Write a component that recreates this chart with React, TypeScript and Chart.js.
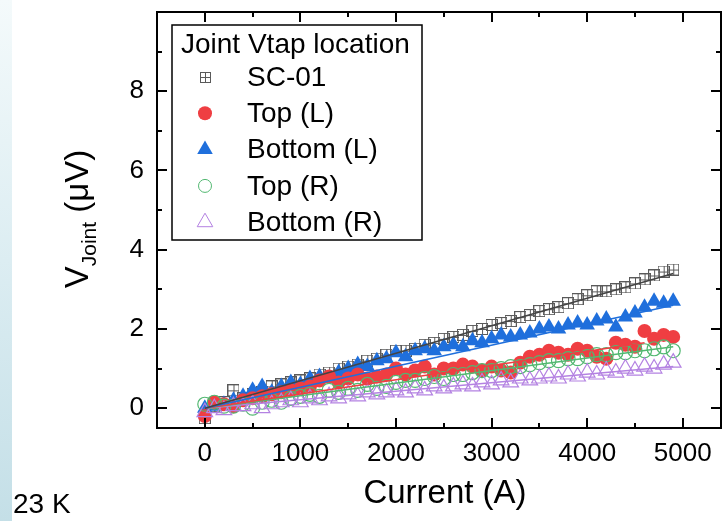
import React, { useEffect, useRef } from "react";
import { Chart, registerables } from "chart.js";

Chart.register(...registerables);

const FONT = '"Liberation Sans", Arial, sans-serif';

// Current (A)
const CURRENT_A = [
  0, 100, 200, 300, 400, 500, 600, 700, 800, 900,
  1000, 1100, 1200, 1300, 1400, 1500, 1600, 1700, 1800, 1900,
  2000, 2100, 2200, 2300, 2400, 2500, 2600, 2700, 2800, 2900,
  3000, 3100, 3200, 3300, 3400, 3500, 3600, 3700, 3800, 3900,
  4000, 4100, 4200, 4300, 4400, 4500, 4600, 4700, 4800, 4900,
];

// V_Joint (µV)
const SC01 = [
  -0.25, 0.05, 0.15, 0.45, 0.25, 0.35, 0.4, 0.55, 0.6, 0.65,
  0.7, 0.75, 0.85, 0.9, 1.0, 1.05, 1.1, 1.2, 1.25, 1.35,
  1.45, 1.45, 1.5, 1.6, 1.65, 1.75, 1.8, 1.85, 1.95, 2.0,
  2.1, 2.15, 2.2, 2.3, 2.35, 2.45, 2.5, 2.55, 2.65, 2.75,
  2.85, 2.95, 2.95, 3.0, 3.05, 3.15, 3.25, 3.35, 3.45, 3.5,
];
const TOP_L = [
  -0.2, 0.15, 0.1, 0.05, 0.2, 0.25, 0.3, 0.35, 0.4, 0.45,
  0.5, 0.55, 0.7, 0.8, 0.65, 0.75, 0.85, 0.75, 0.8, 0.85,
  1.0, 0.85, 0.95, 1.05, 0.85, 1.0, 1.0, 1.1, 1.05, 0.95,
  1.05, 0.95, 0.9, 1.15, 1.3, 1.35, 1.45, 1.4, 1.35, 1.5,
  1.45, 1.3, 1.25, 1.65, 1.6, 1.55, 1.95, 1.75, 1.85, 1.8,
];
const BOTTOM_L = [
  0.0, 0.05, 0.1, 0.2, 0.3, 0.45, 0.55, 0.4, 0.55, 0.65,
  0.6, 0.75, 0.8, 0.75, 0.9, 1.0, 1.1, 1.05, 1.2, 1.25,
  1.4, 1.3, 1.45, 1.5, 1.45, 1.55, 1.6, 1.55, 1.7, 1.65,
  1.75, 1.85, 1.8, 1.85, 1.9, 2.0, 2.05, 2.0, 2.1, 2.15,
  2.1, 2.2, 2.25, 2.05, 2.3, 2.4, 2.55, 2.7, 2.65, 2.7,
];
const TOP_R = [
  0.1, 0.15, 0.05, 0.05, 0.1, 0.0, 0.15, 0.2, 0.15, 0.25,
  0.3, 0.35, 0.3, 0.45, 0.4, 0.5, 0.45, 0.6, 0.5, 0.55,
  0.65, 0.7, 0.7, 0.75, 0.8, 0.75, 0.85, 0.85, 0.9, 0.95,
  0.95, 1.0, 1.05, 1.05, 1.1, 1.15, 1.2, 1.2, 1.25, 1.25,
  1.3, 1.35, 1.35, 1.4, 1.4, 1.45, 1.45, 1.5, 1.55, 1.45,
];
const BOTTOM_R = [
  -0.1, 0.0, -0.05, 0.05, 0.05, 0.1, 0.0, 0.1, 0.15, 0.2,
  0.15, 0.25, 0.2, 0.3, 0.25, 0.35, 0.3, 0.4, 0.35, 0.4,
  0.45, 0.4, 0.5, 0.45, 0.55, 0.5, 0.55, 0.6, 0.55, 0.65,
  0.6, 0.7, 0.65, 0.75, 0.7, 0.75, 0.8, 0.75, 0.85, 0.8,
  0.9, 0.85, 0.95, 0.9, 1.0, 0.95, 1.05, 1.0, 1.1, 1.15,
];

// Linear fits: [start, end] current and voltage
const FIT_SC01_X = [0, 4900];
const FIT_SC01_Y = [0, 3.4];
const FIT_BOTTOM_L_X = [0, 4900];
const FIT_BOTTOM_L_Y = [0, 2.6];
const FIT_TOP_L_X = [0, 4600];
const FIT_TOP_L_Y = [0, 1.65];
const FIT_TOP_R_X = [0, 4900];
const FIT_TOP_R_Y = [0, 1.55];
const FIT_BOTTOM_R_X = [0, 4900];
const FIT_BOTTOM_R_Y = [0, 1.05];

const X_MAJOR = [0, 1000, 2000, 3000, 4000, 5000];
const X_MINOR = [500, 1500, 2500, 3500, 4500];
const Y_MAJOR = [0, 2, 4, 6, 8];
const Y_MINOR = [1, 3, 5, 7, 9];

const LEGEND_TITLE = "Joint Vtap location";
const X_TITLE = "Current (A)";
const TEMP_LABEL = "23 K";

const GRAY = "#5a5a5a";
const RED = "#ef3e42";
const BLUE = "#1f6fdc";
const GREEN = "#52b871";
const PURPLE = "#b482e2";

function makeSquareCross(size: number, color: string) {
  const c = document.createElement("canvas");
  c.width = size;
  c.height = size;
  const g = c.getContext("2d")!;
  g.strokeStyle = color;
  g.lineWidth = 1;
  g.strokeRect(0.5, 0.5, size - 1, size - 1);
  const m = Math.floor(size / 2) + 0.5;
  g.beginPath();
  g.moveTo(m, 0.5);
  g.lineTo(m, size - 0.5);
  g.moveTo(0.5, m);
  g.lineTo(size - 0.5, m);
  g.stroke();
  return c;
}

const pts = (xs: number[], ys: number[]) => xs.map((x, i) => ({ x, y: ys[i] }));

function drawMarker(ctx: CanvasRenderingContext2D, ds: any, x: number, y: number) {
  ctx.save();
  const style = ds.legendMarker;
  if (style instanceof HTMLCanvasElement) {
    ctx.drawImage(style, Math.round(x - style.width / 2), Math.round(y - style.height / 2));
  } else {
    const r = ds.legendRadius;
    ctx.beginPath();
    if (style === "circle") {
      ctx.arc(x, y, r, 0, Math.PI * 2);
    } else {
      let rad = 0;
      ctx.moveTo(x + Math.sin(rad) * r, y - Math.cos(rad) * r);
      rad += (2 * Math.PI) / 3;
      ctx.lineTo(x + Math.sin(rad) * r, y - Math.cos(rad) * r);
      rad += (2 * Math.PI) / 3;
      ctx.lineTo(x + Math.sin(rad) * r, y - Math.cos(rad) * r);
      ctx.closePath();
    }
    if (ds.legendFilled) {
      ctx.fillStyle = ds.backgroundColor;
      ctx.fill();
    } else {
      ctx.lineWidth = 1;
      ctx.strokeStyle = ds.borderColor;
      ctx.stroke();
    }
  }
  ctx.restore();
}

const framePlugin = {
  id: "frameAndDecor",
  afterDraw(chart: any) {
    const { ctx, chartArea, scales } = chart;
    const { left, right, top, bottom } = chartArea;
    const xs = scales.x;
    const ys = scales.y;
    ctx.save();
    ctx.strokeStyle = "#000";
    ctx.lineWidth = 2;
    ctx.strokeRect(left, top, right - left, bottom - top);

    const tickX = (v: number, len: number) => {
      const p = Math.round(xs.getPixelForValue(v));
      ctx.beginPath();
      ctx.moveTo(p, bottom);
      ctx.lineTo(p, bottom - len);
      ctx.moveTo(p, top);
      ctx.lineTo(p, top + len);
      ctx.stroke();
    };
    const tickY = (v: number, len: number) => {
      const p = Math.round(ys.getPixelForValue(v));
      ctx.beginPath();
      ctx.moveTo(left, p);
      ctx.lineTo(left + len, p);
      ctx.moveTo(right, p);
      ctx.lineTo(right - len, p);
      ctx.stroke();
    };
    X_MAJOR.forEach((v) => tickX(v, 10));
    X_MINOR.forEach((v) => tickX(v, 5));
    Y_MAJOR.forEach((v) => tickY(v, 10));
    Y_MINOR.forEach((v) => tickY(v, 5));

    // x title
    ctx.fillStyle = "#000";
    ctx.font = `33px ${FONT}`;
    ctx.textAlign = "center";
    ctx.textBaseline = "alphabetic";
    ctx.fillText(X_TITLE, 445, 503);

    // y title with subscript
    ctx.save();
    ctx.translate(88, 219);
    ctx.rotate(-Math.PI / 2);
    ctx.textAlign = "left";
    const big = `33px ${FONT}`;
    const small = `21px ${FONT}`;
    ctx.font = big;
    const wV = ctx.measureText("V").width;
    const wRest = ctx.measureText(" (\u03BCV)").width;
    ctx.font = small;
    const wJ = ctx.measureText("Joint").width;
    let x0 = -(wV + wJ + wRest) / 2;
    ctx.font = big;
    ctx.fillText("V", x0, 0);
    x0 += wV;
    ctx.font = small;
    ctx.fillText("Joint", x0, 8);
    x0 += wJ;
    ctx.font = big;
    ctx.fillText(" (\u03BCV)", x0, 0);
    ctx.restore();

    // temperature label
    ctx.textAlign = "left";
    ctx.font = `28px ${FONT}`;
    ctx.fillText(TEMP_LABEL, 13, 513);

    // legend
    const bx = 172, by = 25, bw = 250, bh = 215;
    ctx.fillStyle = "#fff";
    ctx.fillRect(bx, by, bw, bh);
    ctx.lineWidth = 1.5;
    ctx.strokeStyle = "#000";
    ctx.strokeRect(bx, by, bw, bh);
    ctx.fillStyle = "#000";
    ctx.font = `28px ${FONT}`;
    ctx.textBaseline = "alphabetic";
    ctx.fillText(LEGEND_TITLE, 181, 53);
    const items = chart.data.datasets.filter((d: any) => d.legendMarker);
    items.forEach((ds: any, i: number) => {
      const cy = 77 + i * 36.3;
      drawMarker(ctx, ds, 205, cy);
      ctx.fillStyle = "#000";
      ctx.font = `28px ${FONT}`;
      ctx.textBaseline = "middle";
      ctx.fillText(ds.label, 247, cy + 1);
    });
    ctx.restore();
  },
};

const zeroPad = (s: any) => {
  s.paddingTop = 0;
  s.paddingBottom = 0;
  s.paddingLeft = 0;
  s.paddingRight = 0;
};

export default function App() {
  const ref = useRef<HTMLCanvasElement>(null);

  useEffect(() => {
    const canvas = ref.current!;
    const sq = makeSquareCross(12, GRAY);
    const sqLegend = makeSquareCross(11, GRAY);

    const fit = (label: string, xs: number[], ys: number[], color: string) => ({
      type: "scatter" as const,
      label,
      data: pts(xs, ys),
      showLine: true,
      borderColor: color,
      borderWidth: 1.5,
      pointRadius: 0,
      order: 0,
    });

    const chart = new Chart(canvas, {
      type: "scatter",
      data: {
        datasets: [
          {
            label: "SC-01",
            data: pts(CURRENT_A, SC01),
            pointStyle: sq as any,
            pointRadius: 6,
            borderColor: GRAY,
            backgroundColor: GRAY,
            order: 5,
            legendMarker: sqLegend,
          } as any,
          {
            label: "Top (L)",
            data: pts(CURRENT_A, TOP_L),
            pointStyle: "circle",
            pointRadius: 7,
            borderWidth: 0,
            backgroundColor: RED,
            borderColor: RED,
            order: 3,
            legendMarker: "circle",
            legendRadius: 7,
            legendFilled: true,
          } as any,
          {
            label: "Bottom (L)",
            data: pts(CURRENT_A, BOTTOM_L),
            pointStyle: "triangle",
            pointRadius: 9,
            borderWidth: 0,
            backgroundColor: BLUE,
            borderColor: BLUE,
            order: 4,
            legendMarker: "triangle",
            legendRadius: 9,
            legendFilled: true,
          } as any,
          {
            label: "Top (R)",
            data: pts(CURRENT_A, TOP_R),
            pointStyle: "circle",
            pointRadius: 7,
            borderWidth: 1.2,
            backgroundColor: "rgba(0,0,0,0)",
            borderColor: GREEN,
            order: 2,
            legendMarker: "circle",
            legendRadius: 6.5,
            legendFilled: false,
          } as any,
          {
            label: "Bottom (R)",
            data: pts(CURRENT_A, BOTTOM_R),
            pointStyle: "triangle",
            pointRadius: 9,
            borderWidth: 1.2,
            backgroundColor: "rgba(0,0,0,0)",
            borderColor: PURPLE,
            order: 1,
            legendMarker: "triangle",
            legendRadius: 9,
            legendFilled: false,
          } as any,
          fit("SC-01 fit", FIT_SC01_X, FIT_SC01_Y, "#444"),
          fit("Bottom (L) fit", FIT_BOTTOM_L_X, FIT_BOTTOM_L_Y, BLUE),
          fit("Top (L) fit", FIT_TOP_L_X, FIT_TOP_L_Y, RED),
          fit("Top (R) fit", FIT_TOP_R_X, FIT_TOP_R_Y, GREEN),
          fit("Bottom (R) fit", FIT_BOTTOM_R_X, FIT_BOTTOM_R_Y, PURPLE),
        ],
      },
      options: {
        responsive: false,
        animation: false,
        events: [],
        layout: { autoPadding: false, padding: { left: 0, top: 12, right: 1, bottom: 0 } },
        plugins: {
          legend: { display: false },
          tooltip: { enabled: false },
          title: { display: false },
        },
        scales: {
          x: {
            type: "linear",
            min: -500,
            max: 5400,
            grid: { display: false, drawTicks: false },
            border: { display: false },
            afterBuildTicks: (s: any) => {
              s.ticks = X_MAJOR.map((v) => ({ value: v }));
            },
            afterFit: (s: any) => {
              s.height = 93;
              zeroPad(s);
            },
            ticks: {
              font: { family: FONT, size: 26 },
              color: "#000",
              padding: 10,
              maxRotation: 0,
              autoSkip: false,
              callback: (v: any) => String(v),
            },
          },
          y: {
            type: "linear",
            min: -0.5,
            max: 10,
            grid: { display: false, drawTicks: false },
            border: { display: false },
            afterBuildTicks: (s: any) => {
              s.ticks = Y_MAJOR.map((v) => ({ value: v }));
            },
            afterFit: (s: any) => {
              s.width = 157;
              zeroPad(s);
            },
            ticks: {
              font: { family: FONT, size: 26 },
              color: "#000",
              padding: 13,
              autoSkip: false,
              callback: (v: any) => String(v),
            },
          },
        },
      },
      plugins: [framePlugin],
    });
    return () => chart.destroy();
  }, []);

  return (
    <div
      style={{
        position: "fixed",
        left: 0,
        top: 0,
        width: 722,
        height: 521,
        background: "#fff",
        overflow: "hidden",
      }}
    >
      <div
        style={{
          position: "absolute",
          left: 0,
          top: 0,
          width: 12,
          height: 521,
          background: "linear-gradient(180deg, #f4fafb 0%, #dcedf2 50%, #c4dfe7 100%)",
        }}
      />
      <canvas
        ref={ref}
        width={722}
        height={521}
        style={{ position: "absolute", left: 0, top: 0, width: 722, height: 521 }}
      />
    </div>
  );
}
